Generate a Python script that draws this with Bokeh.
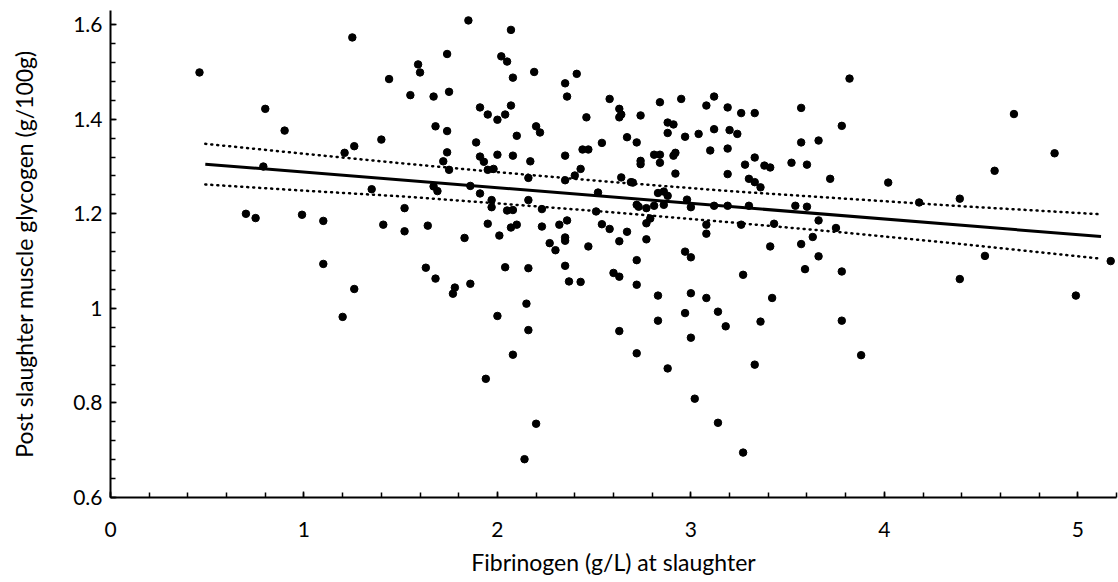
from bokeh.plotting import figure
from bokeh.models import FixedTicker, CustomJSTickFormatter, Range1d
from bokeh.embed import file_html
from bokeh.resources import INLINE

# Fibrinogen (g/L) at slaughter
fibrinogen = [
    0.46, 1.25, 1.59, 1.60, 1.44, 1.55, 1.67, 0.80, 1.68, 0.90, 1.40, 1.26, 1.21, 0.79, 1.35,
    1.67, 1.69, 1.52, 0.70, 0.75, 0.99, 1.10, 1.41, 1.52, 1.64,
    1.10, 1.63, 1.68, 1.26, 1.20,
    1.78, 1.77, 1.86, 2.04, 2.16, 2.35, 2.37, 2.43, 2.60, 2.63, 2.72, 2.72, 2.97, 3.00,
    3.27, 2.83, 3.00, 3.08, 2.15, 2.00, 2.16, 2.63, 2.83, 2.97, 3.00, 3.14, 3.18, 3.36,
    2.72, 2.08, 2.88, 3.33, 1.94, 3.02, 2.20, 3.14, 2.14, 3.27,
    3.42, 3.59, 3.66, 3.78, 3.78, 3.88, 4.39, 4.52, 4.99, 5.17,
    3.82, 3.57, 3.78, 3.57, 3.66, 3.38, 3.41, 3.52, 3.60, 3.72, 3.36, 4.02, 3.54, 3.60,
    4.18, 4.39, 4.67, 4.88, 4.57, 3.43, 3.66, 3.75, 3.63, 3.41, 3.57,
    1.85, 2.07, 1.74, 2.02, 2.05, 2.08, 2.19, 2.35, 2.41, 2.36, 1.75, 1.91, 1.95, 2.00,
    2.04, 2.07, 1.74, 1.89, 2.10, 2.20, 2.22, 1.74, 1.72, 1.75, 1.91, 1.93, 1.95, 1.98,
    2.00, 2.08, 2.17, 2.16, 2.35, 2.35, 2.40, 2.43, 2.44, 2.47, 2.46, 2.54, 2.58, 2.63,
    2.64, 2.63, 2.67, 2.72, 2.74, 2.74, 2.74, 2.64, 2.69, 2.70, 2.81, 2.84, 2.84, 2.91,
    2.92, 2.92, 2.88, 2.88, 2.91, 2.84, 2.95, 2.97, 3.04, 3.08, 3.12, 3.12, 3.19, 3.26,
    3.33, 3.20, 3.24, 3.10, 3.19, 3.19, 3.28, 3.33, 3.30, 3.33,
    1.86, 1.91, 1.97, 1.97, 2.05, 2.08, 2.16, 2.23, 2.52, 2.51, 1.95, 2.01, 2.07, 2.10,
    2.23, 1.83, 2.27, 2.30, 2.32, 2.36, 2.35, 2.35, 2.47, 2.54, 2.58, 2.67, 2.63, 2.72,
    2.73, 2.77, 2.81, 2.83, 2.86, 2.88, 2.86, 2.79, 2.77, 2.77, 2.98, 3.00, 3.12, 3.19,
    3.30, 3.08, 3.08, 3.26,
]

# Post slaughter muscle glycogen (g/100g)
glycogen = [
    1.499, 1.573, 1.516, 1.499, 1.485, 1.451, 1.448, 1.422, 1.385, 1.376, 1.357, 1.343, 1.329, 1.300, 1.252,
    1.258, 1.248, 1.212, 1.200, 1.191, 1.198, 1.185, 1.177, 1.163, 1.175,
    1.094, 1.086, 1.063, 1.041, 0.982,
    1.044, 1.031, 1.052, 1.087, 1.085, 1.090, 1.057, 1.056, 1.075, 1.067, 1.102, 1.050, 1.120, 1.108,
    1.071, 1.027, 1.032, 1.022, 1.010, 0.984, 0.954, 0.952, 0.974, 0.990, 0.938, 0.993, 0.962, 0.972,
    0.905, 0.902, 0.873, 0.881, 0.851, 0.809, 0.756, 0.758, 0.681, 0.695,
    1.022, 1.083, 1.110, 1.078, 0.974, 0.901, 1.062, 1.111, 1.027, 1.100,
    1.486, 1.424, 1.386, 1.351, 1.355, 1.302, 1.298, 1.308, 1.304, 1.274, 1.256, 1.266, 1.217, 1.215,
    1.224, 1.232, 1.411, 1.328, 1.291, 1.179, 1.186, 1.170, 1.151, 1.131, 1.136,
    1.609, 1.589, 1.538, 1.533, 1.522, 1.488, 1.500, 1.476, 1.496, 1.448, 1.458, 1.425, 1.410, 1.399,
    1.410, 1.429, 1.375, 1.351, 1.365, 1.385, 1.372, 1.330, 1.311, 1.293, 1.321, 1.310, 1.293, 1.295,
    1.325, 1.323, 1.311, 1.276, 1.323, 1.271, 1.281, 1.295, 1.336, 1.336, 1.404, 1.350, 1.443, 1.422,
    1.410, 1.404, 1.362, 1.351, 1.408, 1.312, 1.305, 1.277, 1.267, 1.266, 1.325, 1.325, 1.308, 1.323,
    1.329, 1.285, 1.371, 1.393, 1.389, 1.436, 1.443, 1.363, 1.369, 1.429, 1.448, 1.379, 1.425, 1.413,
    1.413, 1.377, 1.369, 1.334, 1.338, 1.284, 1.304, 1.319, 1.274, 1.267,
    1.259, 1.243, 1.229, 1.214, 1.207, 1.208, 1.229, 1.210, 1.245, 1.205, 1.179, 1.154, 1.171, 1.177,
    1.173, 1.149, 1.138, 1.123, 1.177, 1.186, 1.150, 1.143, 1.131, 1.178, 1.168, 1.162, 1.142, 1.219,
    1.215, 1.212, 1.217, 1.244, 1.247, 1.238, 1.219, 1.190, 1.180, 1.146, 1.230, 1.214, 1.217, 1.217,
    1.217, 1.177, 1.158, 1.177,
]

# Regression line and its confidence band
fit_x = [0.49, 5.12]
fit_y = [1.305, 1.152]
band_x = [0.49, 1.0, 1.5, 2.0, 2.6, 3.2, 3.8, 4.4, 5.12]
band_upper = [1.348, 1.327, 1.307, 1.288, 1.267, 1.248, 1.232, 1.216, 1.199]
band_lower = [1.262, 1.249, 1.237, 1.222, 1.203, 1.182, 1.160, 1.136, 1.105]

x_ticks = [0, 1, 2, 3, 4, 5]
y_ticks = [0.6, 0.8, 1.0, 1.2, 1.4, 1.6]

FONT = "Lato"

p = figure(width=1118, height=582, output_backend="svg", toolbar_location=None,
           x_range=Range1d(0, 5.2), y_range=Range1d(0.6, 1.63),
           min_border_left=110, min_border_right=2, min_border_top=10, min_border_bottom=85)
p.background_fill_color = "white"
p.border_fill_color = "white"
p.outline_line_color = None
p.xgrid.visible = False
p.ygrid.visible = False

p.scatter(fibrinogen, glycogen, marker="circle", size=7.5, fill_color="black", line_color="black")
p.line(fit_x, fit_y, line_color="black", line_width=3)
p.line(band_x, band_upper, line_color="black", line_width=2.5, line_dash="1 5", line_cap="round")
p.line(band_x, band_lower, line_color="black", line_width=2.5, line_dash="1 5", line_cap="round")

x_minor = [round(i * 0.2, 2) for i in range(0, 27)]
y_minor = [round(0.6 + i * 0.04, 2) for i in range(0, 26)]
p.xaxis.ticker = FixedTicker(ticks=x_ticks, minor_ticks=x_minor)
p.yaxis.ticker = FixedTicker(ticks=y_ticks, minor_ticks=y_minor)
p.yaxis.formatter = CustomJSTickFormatter(code="return String(Math.round(tick*100)/100);")

for ax in (p.xaxis, p.yaxis):
    ax.axis_line_color = "black"
    ax.axis_line_width = 2
    ax.major_tick_line_color = "black"
    ax.minor_tick_line_color = "black"
    ax.major_tick_line_width = 1.5
    ax.minor_tick_line_width = 1.5
    ax.major_tick_in = 6
    ax.major_tick_out = 0
    ax.minor_tick_in = 5
    ax.minor_tick_out = 0
    ax.major_label_text_font = FONT
    ax.major_label_text_font_size = "21px"
    ax.major_label_text_color = "black"
    ax.axis_label_text_font = FONT
    ax.axis_label_text_font_size = "23px"
    ax.axis_label_text_font_style = "normal"
    ax.axis_label_text_color = "black"

p.xaxis.axis_label = "Fibrinogen (g/L) at slaughter"
p.yaxis.axis_label = "Post slaughter muscle glycogen (g/100g)"
p.xaxis.major_label_standoff = 24
p.xaxis.axis_label_standoff = 8
p.yaxis.major_label_standoff = 8
p.yaxis.axis_label_standoff = 32

open("out.html", "w").write(file_html(p, INLINE))
